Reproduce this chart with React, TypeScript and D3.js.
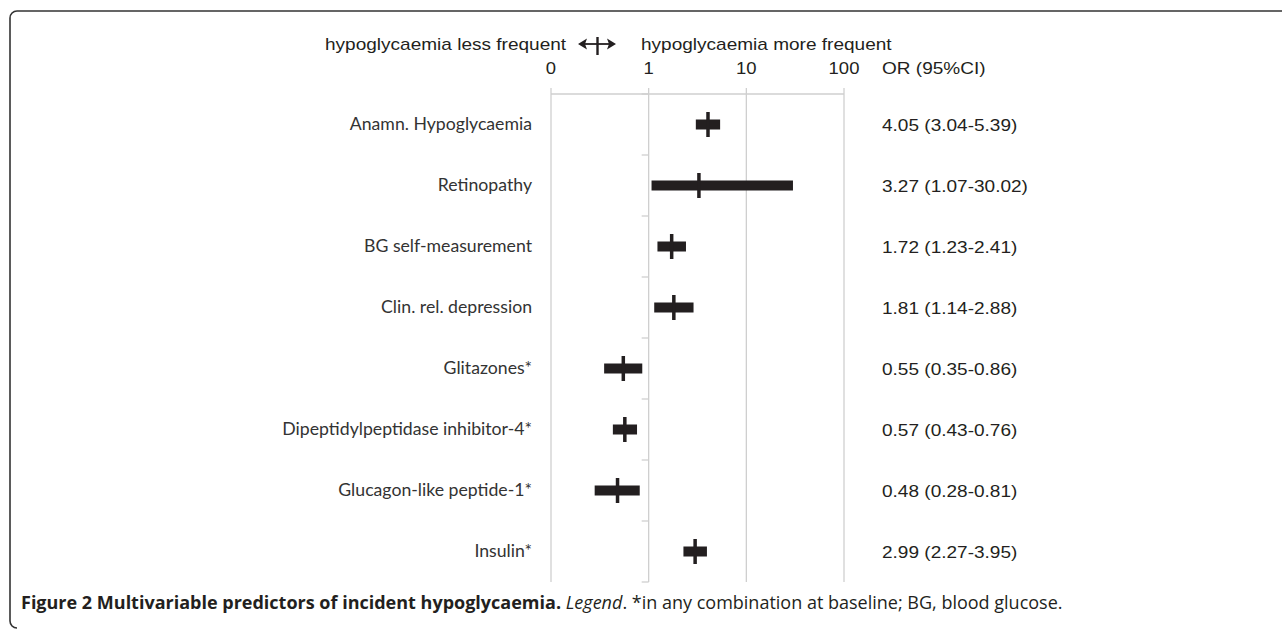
import React from "react";
import * as d3 from "d3";

const categories = [
  "Anamn. Hypoglycaemia",
  "Retinopathy",
  "BG self-measurement",
  "Clin. rel. depression",
  "Glitazones*",
  "Dipeptidylpeptidase inhibitor-4*",
  "Glucagon-like peptide-1*",
  "Insulin*",
];
const oddsRatio = [4.05, 3.27, 1.72, 1.81, 0.55, 0.57, 0.48, 2.99];
const ciLow = [3.04, 1.07, 1.23, 1.14, 0.35, 0.43, 0.28, 2.27];
const ciHigh = [5.39, 30.02, 2.41, 2.88, 0.86, 0.76, 0.81, 3.95];
const tickValues = [0.1, 1, 10, 100];
const tickLabels = ["0", "1", "10", "100"];

const W = 1282;
const H = 639;
const ink = "#231f20";
const grid = "#cfcfcf";
const sans = "'Liberation Sans', Arial, sans-serif";
const stretch = 1.12;

// stretched text, the source figure is wider than it is tall
function SText({ x, y, anchor = "start", size = 17, family = sans, children }: any) {
  return (
    <text
      transform={`translate(${x},${y}) scale(${stretch},1)`}
      textAnchor={anchor}
      fontSize={size}
      fontFamily={family}
      fill={ink}
    >
      {children}
    </text>
  );
}

export default function App() {
  const x = d3.scaleLog().domain([0.1, 100]).range([551, 844]);
  const y = d3.scaleBand().domain(categories).range([94, 582]);
  const barH = 10;
  const markH = 25;
  const markW = 3.5;
  const rows = categories.map((c, i) => ({
    c,
    or: oddsRatio[i],
    lo: ciLow[i],
    hi: ciHigh[i],
  }));
  const cy = (c: string) => y(c)! + y.bandwidth() / 2;
  const boundaries = d3.range(categories.length + 1).map((k) => 94 + k * y.step());

  return (
    <svg
      width={W}
      height={H}
      style={{ position: "absolute", left: 0, top: 0, background: "#fff" }}
    >
      {/* figure frame */}
      <path
        d="M1282,11 H17 A7,7 0 0 0 10,18 V621 A7,7 0 0 0 17,628"
        fill="none"
        stroke="#333"
        strokeWidth={1.6}
      />

      {/* header */}
      <SText x={325} y={50} size={17}>hypoglycaemia less frequent</SText>
      <line x1={582} x2={612} y1={44} y2={44} stroke={ink} strokeWidth={1.8} />
      <path d="M587,38.5 L578,44 L587,49.5 L585,44 Z" fill={ink} />
      <path d="M607,38.5 L616,44 L607,49.5 L609,44 Z" fill={ink} />
      <line x1={597.5} x2={597.5} y1={37} y2={55} stroke={ink} strokeWidth={2.4} />
      <SText x={641} y={50} size={17}>hypoglycaemia more frequent</SText>

      {/* x axis on top */}
      {tickValues.map((t, i) => (
        <SText key={t} x={x(t)} y={74} anchor="middle" size={16.5}>
          {tickLabels[i]}
        </SText>
      ))}
      <SText x={882} y={74} size={17}>OR (95%CI)</SText>
      <line x1={x(0.1)} x2={x(100)} y1={94} y2={94} stroke={grid} strokeWidth={1.3} />
      {tickValues.map((t) => (
        <line key={t} x1={x(t)} x2={x(t)} y1={88} y2={582} stroke={grid} strokeWidth={1.3} />
      ))}
      {boundaries.map((b) => (
        <line key={b} x1={x(1) - 7} x2={x(1)} y1={b} y2={b} stroke={grid} strokeWidth={1.3} />
      ))}

      {/* rows */}
      {rows.map((r) => (
        <g key={r.c}>
          <text
            transform={`translate(532,${cy(r.c) + 5.5}) scale(1.04,1)`}
            textAnchor="end"
            fontSize={17}
            fontFamily="Lato, 'Open Sans', sans-serif"
            fill="#333"
          >
            {r.c}
          </text>
          <rect
            x={x(r.lo)}
            y={cy(r.c) - barH / 2}
            width={x(r.hi) - x(r.lo)}
            height={barH}
            fill={ink}
          />
          <rect
            x={x(r.or) - markW / 2}
            y={cy(r.c) - markH / 2}
            width={markW}
            height={markH}
            fill={ink}
          />
          <SText x={882} y={cy(r.c) + 6} size={17}>
            {`${r.or.toFixed(2)} (${r.lo.toFixed(2)}-${r.hi.toFixed(2)})`}
          </SText>
        </g>
      ))}

      {/* caption */}
      <text x={21} y={609} fontSize={18} fontFamily="'Open Sans', sans-serif" fill={ink}>
        <tspan fontWeight="bold">Figure 2 Multivariable predictors of incident hypoglycaemia.</tspan>
        <tspan fontStyle="italic"> Legend</tspan>
        <tspan>. *in any combination at baseline; BG, blood glucose.</tspan>
      </text>
    </svg>
  );
}
